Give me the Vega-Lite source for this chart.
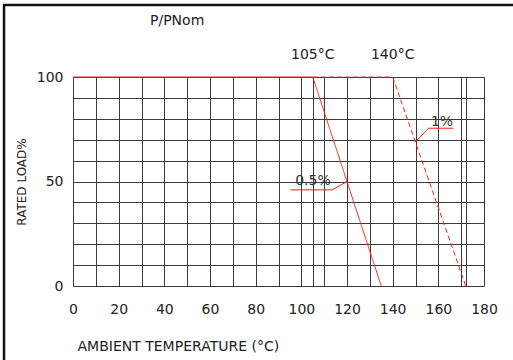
{
  "$schema": "https://vega.github.io/schema/vega-lite/v6.json",
  "width": 411,
  "height": 209,
  "autosize": "none",
  "padding": {"left": 73, "top": 77, "right": 29, "bottom": 74},
  "background": "white",
  "config": {
    "view": {"stroke": "#666", "strokeWidth": 1},
    "font": "DejaVu Sans"
  },
  "title": {"text": "P/PNom", "anchor": "start", "frame": "group", "dx": 77, "dy": 39, "fontSize": 14, "fontWeight": "normal", "color": "#222", "font": "DejaVu Sans", "baseline": "alphabetic"},
  "datasets": {
    "curves": [
      {"series": "0.5%", "x": 0, "y": 100, "o": 1},
      {"series": "0.5%", "x": 105, "y": 100, "o": 2},
      {"series": "0.5%", "x": 135, "y": 0, "o": 3},
      {"series": "1%", "x": 105, "y": 100, "o": 1},
      {"series": "1%", "x": 140, "y": 100, "o": 2},
      {"series": "1%", "x": 172, "y": 0, "o": 3}
    ],
    "leaders": [
      {"series": "0.5%", "x": 95.3, "y": 46, "o": 1},
      {"series": "0.5%", "x": 113.5, "y": 46, "o": 2},
      {"series": "0.5%", "x": 120, "y": 50, "o": 3},
      {"series": "1%", "x": 150, "y": 69, "o": 1},
      {"series": "1%", "x": 155.7, "y": 75.5, "o": 2},
      {"series": "1%", "x": 166.6, "y": 75.5, "o": 3}
    ],
    "labels": [
      {"x": 105.1, "y": 47.5, "text": "0.5%"},
      {"x": 161.6, "y": 75.5, "text": "1%"}
    ],
    "toplabels": [
      {"x": 105, "y": 100, "text": "105°C"},
      {"x": 140, "y": 100, "text": "140°C"}
    ],
    "frame": [
      {"x": -30.2, "x2": 260, "y": 134.4, "y2": -90}
    ]
  },
  "layer": [
    {
      "data": {"name": "curves"},
      "mark": {"type": "line", "color": "#ff1a1a", "strokeWidth": 1},
      "encoding": {
        "x": {
          "field": "x", "type": "quantitative",
          "scale": {"domain": [0, 180], "nice": false, "zero": false},
          "axis": {
            "title": "AMBIENT TEMPERATURE (°C)",
            "values": [0, 10, 20, 30, 40, 50, 60, 70, 80, 90, 100, 105, 110, 120, 130, 140, 150, 160, 170, 172, 180],
            "tickCount": 40,
            "labelExpr": "datum.value % 20 == 0 ? datum.label : ''",
            "grid": true, "gridColor": "#3a3a3a", "gridWidth": 1,
            "domain": false, "ticks": false, "tickSize": 0,
            "labelPadding": 16, "labelFontSize": 14, "labelColor": "#222", "labelFont": "DejaVu Sans",
            "labelFlush": false, "labelOverlap": false,
            "titleFont": "DejaVu Sans", "titleFontSize": 14, "titleFontWeight": "normal", "titleColor": "#222",
            "titleAnchor": "start", "titleAlign": "left", "titleX": 4, "titleY": 64, "titleBaseline": "alphabetic"
          }
        },
        "y": {
          "field": "y", "type": "quantitative",
          "scale": {"domain": [0, 100], "nice": false},
          "axis": {
            "title": "RATED LOAD%",
            "values": [0, 10, 20, 30, 40, 50, 60, 70, 80, 90, 100],
            "tickCount": 40,
            "labelExpr": "datum.value % 50 == 0 ? datum.label : ''",
            "grid": true, "gridColor": "#3a3a3a", "gridWidth": 1,
            "domain": false, "ticks": false, "tickSize": 0,
            "labelPadding": 10, "labelFontSize": 14, "labelColor": "#222", "labelFont": "DejaVu Sans",
            "labelFlush": false, "labelOverlap": false,
            "titleFont": "DejaVu Sans", "titleFontSize": 12, "titleFontWeight": "normal", "titleColor": "#222",
            "titleAngle": -90, "titleX": -48, "titleY": 104.5, "titleAlign": "center", "titleBaseline": "alphabetic"
          }
        },
        "detail": {"field": "series"},
        "order": {"field": "o"},
        "strokeDash": {"field": "series", "type": "nominal", "scale": {"domain": ["0.5%", "1%"], "range": [[1, 0], [5, 3]]}, "legend": null}
      }
    },
    {
      "data": {"name": "leaders"},
      "mark": {"type": "line", "color": "#ff1a1a", "strokeWidth": 1},
      "encoding": {
        "x": {"field": "x", "type": "quantitative"},
        "y": {"field": "y", "type": "quantitative"},
        "detail": {"field": "series"},
        "order": {"field": "o"}
      }
    },
    {
      "data": {"name": "labels"},
      "mark": {"type": "text", "fontSize": 14, "color": "#333", "align": "center", "baseline": "alphabetic", "font": "DejaVu Sans", "dy": -2},
      "encoding": {
        "x": {"field": "x", "type": "quantitative"},
        "y": {"field": "y", "type": "quantitative"},
        "text": {"field": "text"}
      }
    },
    {
      "data": {"name": "toplabels"},
      "mark": {"type": "text", "fontSize": 14, "color": "#222", "align": "center", "baseline": "alphabetic", "dy": -18, "font": "DejaVu Sans"},
      "encoding": {
        "x": {"field": "x", "type": "quantitative"},
        "y": {"field": "y", "type": "quantitative"},
        "text": {"field": "text"}
      }
    },
    {
      "data": {"name": "frame"},
      "mark": {"type": "rect", "fill": null, "stroke": "#111", "strokeWidth": 2.5, "clip": false},
      "encoding": {
        "x": {"field": "x", "type": "quantitative"},
        "x2": {"field": "x2"},
        "y": {"field": "y", "type": "quantitative"},
        "y2": {"field": "y2"}
      }
    }
  ]
}
